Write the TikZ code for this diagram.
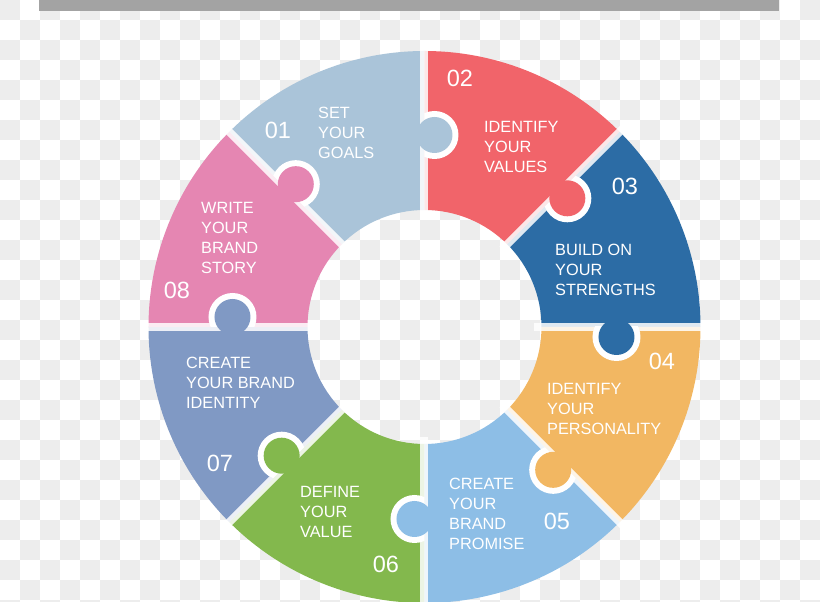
\documentclass[tikz,border=0pt]{standalone}
\usepackage{fontspec}
\setmainfont{Liberation Sans}
\definecolor{segA}{RGB}{170,196,217}
\definecolor{segB}{RGB}{241,100,106}
\definecolor{segC}{RGB}{44,108,165}
\definecolor{segD}{RGB}{242,183,98}
\definecolor{segE}{RGB}{141,190,230}
\definecolor{segF}{RGB}{131,184,77}
\definecolor{segG}{RGB}{128,153,196}
\definecolor{segH}{RGB}{229,134,178}
\definecolor{checker}{RGB}{237,237,237}
\definecolor{topbar}{RGB}{163,163,163}

\begin{document}
\begin{tikzpicture}[x=1pt, y=1pt,
    num/.style={anchor=center, text=white, inner sep=0pt, font=\fontsize{23.5}{23.5}\selectfont},
    lbl/.style={anchor=west, align=left, text=white, inner sep=0pt, font=\fontsize{16.3}{20}\selectfont},
    gapline/.style={white, opacity=0.85, line width=8pt}]
    \useasboundingbox (-424.5,-275) rectangle (395.5,327);
    % transparency checkerboard
    \foreach \i in {0,...,40} {
      \foreach \j in {0,...,30} {
        \pgfmathtruncatemacro\parity{\i+\j}
        \ifodd\parity\else
          \fill[checker] (20*\i-424.5, 307-20*\j) rectangle ++(20,20);
        \fi
      }
    }
    \fill[topbar] (-385.5,316) rectangle (354.8,327);

    % ring segments
    \fill[segA] (90:117) arc (90:135:117) -- (135:276) arc (135:90:276) -- cycle;
    \fill[segB] (45:117) arc (45:90:117) -- (90:276) arc (90:45:276) -- cycle;
    \fill[segC] (0:117) arc (0:45:117) -- (45:276) arc (45:0:276) -- cycle;
    \fill[segD] (-45:117) arc (-45:0:117) -- (0:276) arc (0:-45:276) -- cycle;
    \fill[segE] (-90:117) arc (-90:-45:117) -- (-45:276) arc (-45:-90:276) -- cycle;
    \fill[segF] (-135:117) arc (-135:-90:117) -- (-90:276) arc (-90:-135:276) -- cycle;
    \fill[segG] (180:117) arc (180:225:117) -- (225:276) arc (225:180:276) -- cycle;
    \fill[segH] (135:117) arc (135:180:117) -- (180:276) arc (180:135:276) -- cycle;

    % gaps
    \foreach \a in {0,45,...,315}
      \draw[gapline] (\a:110) -- (\a:283);

    % puzzle knobs
    \foreach \a/\c in {90/segA, 45/segB, 0/segC, -45/segD, -90/segE, -135/segF, 180/segG, 135/segH} {
      \begin{scope}[rotate=\a]
        \begin{scope}
          \clip (150,0) rectangle (240,-40);
          \fill[white] (192,-10) circle (24);
        \end{scope}
        \fill[\c] (192,-10) circle (18);
      \end{scope}
    }

    % numbers
    \node[num] (n01) at (-146.5,196.5) {01};
    \node[num] (n02) at (35.5,249) {02};
    \node[num] (n03) at (200.5,141) {03};
    \node[num] (n04) at (237.5,-34) {04};
    \node[num] (n05) at (132.5,-194) {05};
    \node[num] (n06) at (-38.5,-237) {06};
    \node[num] (n07) at (-204.5,-136) {07};
    \node[num] (n08) at (-247.5,37) {08};

    % labels
    \node[lbl] (t01) at (-106.5,194) {SET\\YOUR\\GOALS};
    \node[lbl] (t02) at (59.5,180) {IDENTIFY\\YOUR\\VALUES};
    \node[lbl] (t03) at (130.5,57) {BUILD ON\\YOUR\\STRENGTHS};
    \node[lbl] (t04) at (122.5,-82) {IDENTIFY\\YOUR\\PERSONALITY};
    \node[lbl] (t05) at (24.5,-187) {CREATE\\YOUR\\BRAND\\PROMISE};
    \node[lbl] (t06) at (-124.5,-185) {DEFINE\\YOUR\\VALUE};
    \node[lbl] (t07) at (-238.5,-56) {CREATE\\YOUR BRAND\\IDENTITY};
    \node[lbl] (t08) at (-223.5,89) {WRITE\\YOUR\\BRAND\\STORY};
\end{tikzpicture}
\end{document}
